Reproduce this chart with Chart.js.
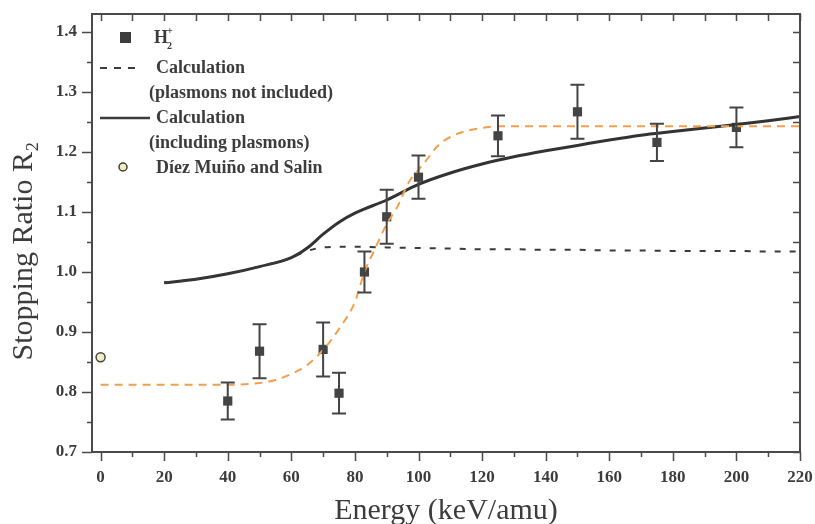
<!DOCTYPE html>
<html>
<head>
<meta charset="utf-8">
<script src="https://cdn.jsdelivr.net/npm/chart.js@4.4.1/dist/chart.umd.min.js"></script>
<style>
  html, body { margin: 0; padding: 0; background: #fff; }
  #wrap { width: 815px; height: 524px; }
</style>
</head>
<body>
<div id="wrap"><canvas id="ratioChart" width="815" height="524"></canvas></div>
<script>
// measured H2+ points (energy keV/amu, ratio, error)
const energies = [40, 50, 70, 75, 83, 90, 100, 125, 150, 175, 200];
const ratios = [0.785, 0.868, 0.871, 0.798, 1.000, 1.092, 1.158, 1.227, 1.267, 1.216, 1.241];
const errors = [0.031, 0.045, 0.045, 0.034, 0.034, 0.045, 0.036, 0.034, 0.045, 0.031, 0.033];

// calculations
const calcEnergy = [20, 30, 40, 50, 60, 65, 70, 75, 80, 90, 100, 110, 120, 130, 140, 150, 160, 170, 180, 190, 200, 210, 220];
const calcPlasmons = [0.982, 0.988, 0.997, 1.009, 1.024, 1.040, 1.063, 1.083, 1.098, 1.120, 1.146, 1.165, 1.180, 1.192, 1.202, 1.211, 1.220, 1.228, 1.234, 1.240, 1.246, 1.252, 1.259];
const calcNoPlasmons = [0.982, 0.988, 0.997, 1.009, 1.024, 1.035, 1.041, 1.042, 1.042, 1.041, 1.040, 1.039, 1.038, 1.038, 1.037, 1.037, 1.036, 1.036, 1.035, 1.035, 1.035, 1.034, 1.034];

// orange dashed fit through the data
const fitEnergy = [0, 40, 50, 55, 60, 65, 70, 75, 80, 83, 86, 90, 93, 97, 100, 103, 106, 110, 115, 120, 125, 140, 160, 180, 200, 220];
const fitRatio = [0.812, 0.812, 0.815, 0.820, 0.830, 0.845, 0.870, 0.905, 0.950, 1.000, 1.035, 1.080, 1.105, 1.150, 1.170, 1.190, 1.210, 1.225, 1.235, 1.240, 1.243, 1.243, 1.243, 1.243, 1.243, 1.243];

// Díez Muiño and Salin
const dmsEnergy = [0];
const dmsRatio = [0.858];

const xTicks = [0, 20, 40, 60, 80, 100, 120, 140, 160, 180, 200, 220];
const yTicks = [0.7, 0.8, 0.9, 1.0, 1.1, 1.2, 1.3, 1.4];

const ink = '#3c3c3c';
const serif = "'Liberation Serif', 'Times New Roman', serif";

function pairs(xs, ys) {
  return xs.map((v, i) => ({ x: v, y: ys[i] }));
}

// frame, minor ticks, inside ticks on top / right, axis titles
const framePlugin = {
  id: 'frame',
  afterDraw(chart) {
    const { ctx, chartArea: a, scales: { x, y } } = chart;
    ctx.save();
    ctx.strokeStyle = '#4a4a4a';
    ctx.lineWidth = 2;
    ctx.strokeRect(a.left, a.top, a.right - a.left, a.bottom - a.top);
    ctx.lineWidth = 1.5;
    ctx.beginPath();
    for (let v = 0; v <= 220; v += 10) {
      const px = Math.round(x.getPixelForValue(v)) + 0.5;
      const len = v % 20 === 0 ? 9 : 5;
      ctx.moveTo(px, a.bottom); ctx.lineTo(px, a.bottom + len);
      ctx.moveTo(px, a.top); ctx.lineTo(px, a.top + 7);
    }
    for (let k = 0; k <= 14; k++) {
      const v = 0.7 + k * 0.05;
      const py = Math.round(y.getPixelForValue(v)) + 0.5;
      const len = k % 2 === 0 ? 10 : 5;
      ctx.moveTo(a.left, py); ctx.lineTo(a.left - len, py);
      ctx.moveTo(a.right, py); ctx.lineTo(a.right - 7, py);
    }
    ctx.stroke();

    // axis titles
    ctx.fillStyle = ink;
    ctx.font = '30px ' + serif;
    ctx.textAlign = 'center';
    ctx.textBaseline = 'alphabetic';
    ctx.fillText('Energy (keV/amu)', (a.left + a.right) / 2, 519);
    ctx.translate(32, 251);
    ctx.rotate(-Math.PI / 2);
    ctx.fillText('Stopping Ratio R₂', 0, 0);
    ctx.restore();
  }
};

const errorBarPlugin = {
  id: 'errorBars',
  afterDatasetsDraw(chart) {
    const { ctx, scales: { x, y } } = chart;
    ctx.save();
    ctx.strokeStyle = '#444';
    ctx.lineWidth = 2;
    energies.forEach((e, i) => {
      const px = x.getPixelForValue(e);
      const top = y.getPixelForValue(ratios[i] + errors[i]);
      const bot = y.getPixelForValue(ratios[i] - errors[i]);
      ctx.beginPath();
      ctx.moveTo(px, top); ctx.lineTo(px, bot);
      ctx.moveTo(px - 7, top); ctx.lineTo(px + 7, top);
      ctx.moveTo(px - 7, bot); ctx.lineTo(px + 7, bot);
      ctx.stroke();
    });
    ctx.restore();
  }
};

// legend drawn inside the plot, top-left
const legendPlugin = {
  id: 'innerLegend',
  afterDraw(chart) {
    const { ctx } = chart;
    ctx.save();
    ctx.fillStyle = ink;
    ctx.strokeStyle = ink;
    ctx.textBaseline = 'middle';
    ctx.font = 'bold 18px ' + serif;

    // H2+
    ctx.fillRect(120, 32, 11, 11);
    ctx.fillText('H', 154, 38);
    ctx.font = 'bold 10px ' + serif;
    ctx.fillText('+', 167, 31);
    ctx.fillText('2', 167, 46);

    ctx.font = 'bold 18px ' + serif;
    ctx.lineWidth = 2;
    ctx.setLineDash([7, 7]);
    ctx.beginPath(); ctx.moveTo(100, 68); ctx.lineTo(142, 68); ctx.stroke();
    ctx.setLineDash([]);
    ctx.fillText('Calculation', 156, 68);
    ctx.fillText('(plasmons not included)', 149, 93);

    ctx.lineWidth = 2.5;
    ctx.beginPath(); ctx.moveTo(100, 118); ctx.lineTo(150, 118); ctx.stroke();
    ctx.fillText('Calculation', 156, 118);
    ctx.fillText('(including plasmons)', 149, 143);

    ctx.beginPath();
    ctx.arc(123, 167, 4, 0, Math.PI * 2);
    ctx.fillStyle = '#f3efc0';
    ctx.fill();
    ctx.lineWidth = 1.5;
    ctx.stroke();
    ctx.fillStyle = ink;
    ctx.fillText('Díez Muiño and Salin', 156, 168);
    ctx.restore();
  }
};

const ctx = document.getElementById('ratioChart').getContext('2d');

new Chart(ctx, {
  type: 'scatter',
  data: {
    datasets: [
      {
        label: 'fit',
        data: pairs(fitEnergy, fitRatio),
        showLine: true,
        borderColor: '#f2a04e',
        borderWidth: 2,
        borderDash: [8, 6],
        pointRadius: 0,
        cubicInterpolationMode: 'monotone'
      },
      {
        label: 'Calculation (plasmons not included)',
        data: pairs(calcEnergy, calcNoPlasmons),
        showLine: true,
        borderColor: '#3a3a3a',
        borderWidth: 2,
        borderDash: [6, 9],
        pointRadius: 0,
        cubicInterpolationMode: 'monotone'
      },
      {
        label: 'Calculation (including plasmons)',
        data: pairs(calcEnergy, calcPlasmons),
        showLine: true,
        borderColor: '#333',
        borderWidth: 3,
        pointRadius: 0,
        cubicInterpolationMode: 'monotone'
      },
      {
        label: 'H2+',
        data: pairs(energies, ratios),
        pointStyle: 'rect',
        pointRadius: 6.5,
        backgroundColor: '#444',
        borderColor: '#444',
        borderWidth: 0
      },
      {
        label: 'Díez Muiño and Salin',
        data: pairs(dmsEnergy, dmsRatio),
        pointStyle: 'circle',
        pointRadius: 4.5,
        backgroundColor: '#f3efc0',
        borderColor: '#444',
        borderWidth: 1.5
      }
    ]
  },
  options: {
    responsive: false,
    animation: false,
    layout: { padding: { top: 14, right: 15, left: 0, bottom: 0 } },
    plugins: {
      legend: { display: false },
      tooltip: { enabled: false }
    },
    scales: {
      x: {
        type: 'linear',
        min: -2.7,
        max: 220,
        afterFit(scale) {
          scale.height = 72;
          scale.paddingLeft = 0;
          scale.paddingRight = 0;
        },
        afterBuildTicks(scale) { scale.ticks = xTicks.map(v => ({ value: v })); },
        grid: { display: false, drawTicks: false },
        border: { display: false },
        ticks: {
          padding: 15,
          color: ink,
          font: { family: serif, size: 17, weight: 'bold' },
          maxRotation: 0
        }
      },
      y: {
        min: 0.7,
        max: 1.43,
        afterFit(scale) {
          scale.width = 92;
          scale.paddingTop = 0;
          scale.paddingBottom = 0;
        },
        afterBuildTicks(scale) { scale.ticks = yTicks.map(v => ({ value: v })); },
        grid: { display: false, drawTicks: false },
        border: { display: false },
        ticks: {
          padding: 15,
          color: ink,
          font: { family: serif, size: 17, weight: 'bold' },
          callback: v => v.toFixed(1)
        }
      }
    }
  },
  plugins: [errorBarPlugin, framePlugin, legendPlugin]
});
</script>
</body>
</html>
